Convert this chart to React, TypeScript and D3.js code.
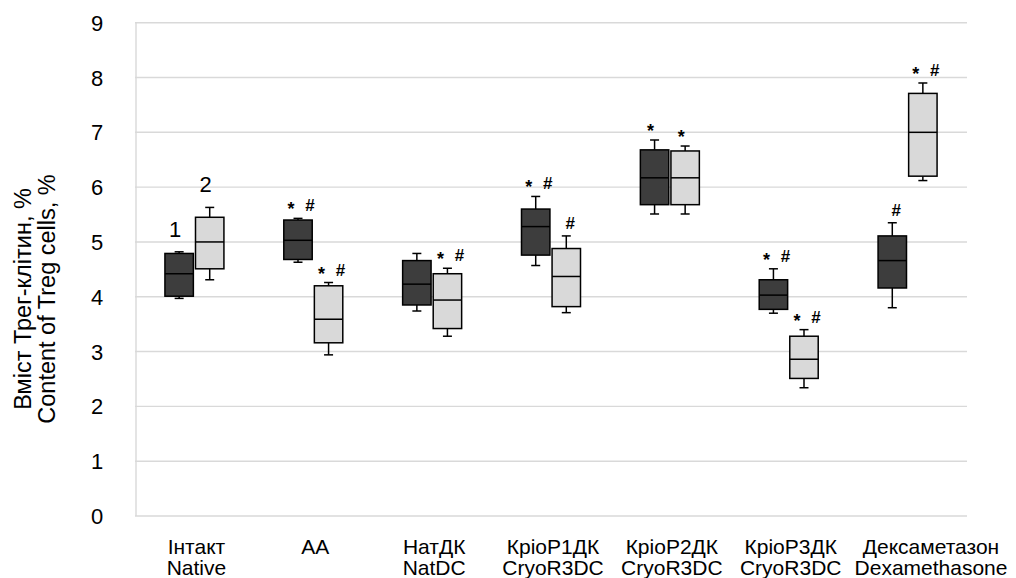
import React from "react";
import * as d3 from "d3";

const categoriesUa = ["Інтакт", "АА", "НатДК", "КріоР1ДК", "КріоР2ДК", "КріоР3ДК", "Дексаметазон"];
const categoriesEn = ["Native", "", "NatDC", "CryoR3DC", "CryoR3DC", "CryoR3DC", "Dexamethasone"];
const seriesKeys = ["1", "2"];

// [min, q1, median, q3, max]
const series1Stats = [
  [3.97, 4.01, 4.42, 4.79, 4.82],
  [4.63, 4.68, 5.03, 5.4, 5.43],
  [3.74, 3.85, 4.23, 4.66, 4.79],
  [4.57, 4.76, 5.28, 5.6, 5.83],
  [5.51, 5.68, 6.17, 6.68, 6.86],
  [3.7, 3.77, 4.03, 4.31, 4.51],
  [3.8, 4.16, 4.66, 5.11, 5.35],
];
const series2Stats = [
  [4.31, 4.51, 5.0, 5.45, 5.63],
  [2.94, 3.16, 3.59, 4.2, 4.26],
  [3.28, 3.42, 3.94, 4.42, 4.52],
  [3.71, 3.82, 4.37, 4.88, 5.11],
  [5.51, 5.68, 6.17, 6.66, 6.75],
  [2.34, 2.51, 2.86, 3.28, 3.4],
  [6.12, 6.2, 7.0, 7.71, 7.9],
];
const series1Marks = ["", "*#", "", "*#", "*", "*#", "#"];
const series2Marks = ["", "*#", "*#", "#", "*", "*#", "*#"];
const yTicks = [0, 1, 2, 3, 4, 5, 6, 7, 8, 9];

const W = 1016;
const H = 578;
const FONT = "'Liberation Sans', Arial, sans-serif";
const fills = ["#3d3d3d", "#d9d9d9"];

export default function App() {
  const x = d3.scaleBand<string>().domain(categoriesUa).range([135, 967]).paddingInner(0).paddingOuter(0);
  const xs = d3.scaleBand<string>().domain(seriesKeys).range([-29.5, 29.5]).paddingInner(0.07);
  const y = d3.scaleLinear().domain([0, 9]).range([516, 22.7]);
  const bw = xs.bandwidth();
  const allStats = [series1Stats, series2Stats];
  const allMarks = [series1Marks, series2Marks];
  const cap = 9;
  const catFs = 21;

  return (
    <svg width={W} height={H} style={{ position: "absolute", left: 0, top: 0, background: "#fff" }} fontFamily={FONT}>
      {/* gridlines */}
      {yTicks.map((t) => (
        <line key={"g" + t} x1={x.range()[0]} x2={x.range()[1]} y1={y(t)} y2={y(t)} stroke="#d9d9d9" strokeWidth={1.4} />
      ))}
      <line x1={136} x2={136} y1={y(9)} y2={y(0)} stroke="#d9d9d9" strokeWidth={1.4} />
      {/* y tick labels */}
      {yTicks.map((t) => (
        <text key={"t" + t} x={97} y={y(t) + 8} fontSize={22} textAnchor="middle" fill="#000">
          {t}
        </text>
      ))}
      {/* y title */}
      <g transform="translate(31,299) rotate(-90)">
        <text x={0} y={0} fontSize={23.5} textAnchor="middle" fill="#000">Вміст Трег-клітин, %</text>
      </g>
      <g transform="translate(55,299) rotate(-90)">
        <text x={0} y={0} fontSize={23.5} textAnchor="middle" fill="#000">Content of Treg cells, %</text>
      </g>
      {/* category labels */}
      {categoriesUa.map((c, i) => {
        const cx = (x(c) as number) + x.bandwidth() / 2 + 2;
        const last = i === categoriesUa.length - 1;
        const lx = last ? W - 85 : cx;
        return (
          <g key={"c" + i}>
            <text x={lx} y={554} fontSize={catFs} textAnchor="middle" fill="#000">{c}</text>
            <text x={lx} y={575} fontSize={catFs} textAnchor="middle" fill="#000">{categoriesEn[i]}</text>
          </g>
        );
      })}
      {/* boxes */}
      {categoriesUa.map((c, i) =>
        seriesKeys.map((k, s) => {
          const [mn, q1, md, q3, mx] = allStats[s][i];
          const left = (x(c) as number) + x.bandwidth() / 2 + (xs(k) as number);
          const cx = left + bw / 2;
          const marks = allMarks[s][i];
          const my = y(mx) - 13;
          const markEls: any[] = [];
          if (marks === "*#") {
            markEls.push(<text key="a" x={cx - 7} y={my + 10} fontSize={18} fontWeight="bold" textAnchor="middle">*</text>);
            markEls.push(<text key="b" x={cx + 12} y={my + 6} fontSize={17} fontWeight="bold" textAnchor="middle">#</text>);
          } else if (marks === "*") {
            markEls.push(<text key="a" x={cx - 4} y={my + 10} fontSize={18} fontWeight="bold" textAnchor="middle">*</text>);
          } else if (marks === "#") {
            markEls.push(<text key="b" x={cx + 4} y={my + 6} fontSize={17} fontWeight="bold" textAnchor="middle">#</text>);
          }
          return (
            <g key={"b" + i + k}>
              <line x1={cx} x2={cx} y1={y(mx)} y2={y(q3)} stroke="#000" strokeWidth={1.5} />
              <line x1={cx} x2={cx} y1={y(q1)} y2={y(mn)} stroke="#000" strokeWidth={1.5} />
              <line x1={cx - cap / 2} x2={cx + cap / 2} y1={y(mx)} y2={y(mx)} stroke="#000" strokeWidth={1.5} />
              <line x1={cx - cap / 2} x2={cx + cap / 2} y1={y(mn)} y2={y(mn)} stroke="#000" strokeWidth={1.5} />
              <rect x={left} y={y(q3)} width={bw} height={y(q1) - y(q3)} fill={fills[s]} stroke="#000" strokeWidth={1.5} />
              <line x1={left} x2={left + bw} y1={y(md)} y2={y(md)} stroke="#000" strokeWidth={1.5} />
              {markEls}
              {i === 0 ? (
                <text x={cx - 4} y={y(mx) - 15} fontSize={22} textAnchor="middle" fill="#000">{k}</text>
              ) : null}
            </g>
          );
        })
      )}
    </svg>
  );
}
